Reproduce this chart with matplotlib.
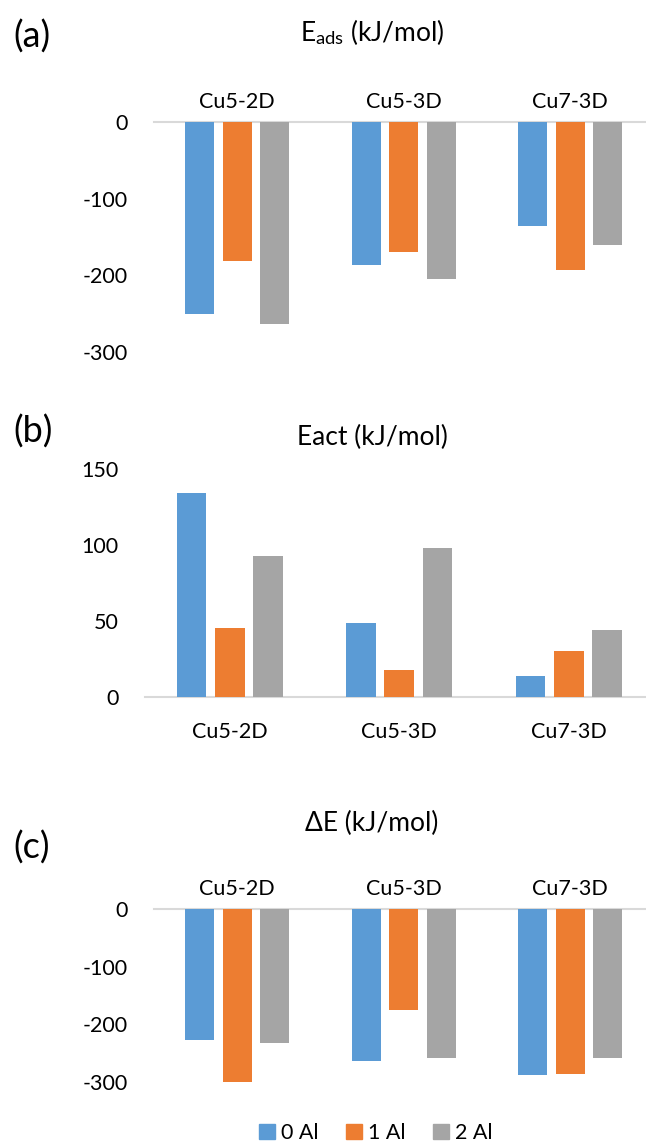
import matplotlib
matplotlib.use("Agg")
import matplotlib.pyplot as plt
from matplotlib.patches import Patch
import numpy as np

plt.rcParams["font.family"] = ["Lato", "DejaVu Sans"]
plt.rcParams["mathtext.fontset"] = "custom"
plt.rcParams["mathtext.rm"] = "Lato"
plt.rcParams["mathtext.it"] = "Lato:italic"

clusters = ["Cu5-2D", "Cu5-3D", "Cu7-3D"]
series = ["0 Al", "1 Al", "2 Al"]
colors = ["#5B9BD5", "#ED7D31", "#A5A5A5"]

# adsorption energy (kJ/mol), one list per Al count
eads_0al = [-250, -186, -136]
eads_1al = [-181, -170, -193]
eads_2al = [-263, -205, -161]

# activation energy (kJ/mol)
eact_0al = [134, 49, 13.5]
eact_1al = [45.5, 18, 30.5]
eact_2al = [93, 98, 44]

# reaction energy (kJ/mol)
de_0al = [-228, -264, -288]
de_1al = [-301, -176, -286]
de_2al = [-233, -258, -258]

W, H = 646, 1145
fig = plt.figure(figsize=(W / 100, H / 100), dpi=100)

TICK_FS = 15.5
x = np.arange(len(clusters))
offsets = [-0.225, 0, 0.225]


def frac_box(left, right, top, bottom):
    return [left / W, 1 - bottom / H, (right - left) / W, (bottom - top) / H]


def draw_panel(ax, data, ylim, yticks, labels_top):
    for vals, off, c in zip(data, offsets, colors):
        ax.bar(x + off, vals, width=0.175, color=c, zorder=2)
    ax.set_xlim(-0.5, 2.5)
    ax.set_ylim(*ylim)
    ax.set_yticks(yticks)
    ax.set_yticklabels([str(t) for t in yticks], fontsize=TICK_FS)
    ax.set_xticks(x)
    ax.set_xticklabels(clusters, fontsize=TICK_FS)
    for s in ax.spines.values():
        s.set_visible(False)
    ax.axhline(0, color="#D9D9D9", lw=1.5, clip_on=False, zorder=1)
    if labels_top:
        ax.xaxis.tick_top()
        ax.tick_params(axis="x", length=0, pad=7)
    else:
        ax.tick_params(axis="x", length=0, pad=18)
    ax.tick_params(axis="y", length=0, pad=19)
    ax.patch.set_visible(False)


ax_a = fig.add_axes(frac_box(154, 653.5, 122, 352))
draw_panel(ax_a, [eads_0al, eads_1al, eads_2al], (-300, 0), [0, -100, -200, -300], True)

ax_b = fig.add_axes(frac_box(145, 653.5, 469, 697))
draw_panel(ax_b, [eact_0al, eact_1al, eact_2al], (0, 150), [0, 50, 100, 150], False)

ax_c = fig.add_axes(frac_box(154, 653.5, 909, 1082))
draw_panel(ax_c, [de_0al, de_1al, de_2al], (-300, 0), [0, -100, -200, -300], True)

# titles and panel letters
fig.text(372 / W, 1 - 32 / H, r"E$_{\mathrm{ads}}$ (kJ/mol)", ha="center", va="center", fontsize=19)
fig.text(372 / W, 1 - 437 / H, "Eact (kJ/mol)", ha="center", va="center", fontsize=19)
fig.text(372 / W, 1 - 823 / H, "ΔE (kJ/mol)", ha="center", va="center", fontsize=19)

fig.text(13 / W, 1 - 37 / H, "(a)", ha="left", va="center", fontsize=26)
fig.text(13 / W, 1 - 432 / H, "(b)", ha="left", va="center", fontsize=26)
fig.text(13 / W, 1 - 848 / H, "(c)", ha="left", va="center", fontsize=26)

handles = [Patch(color=c, label=s) for c, s in zip(colors, series)]
fig.legend(handles=handles, loc="center", bbox_to_anchor=(376 / W, 1 - 1133 / H),
           ncol=3, frameon=False, fontsize=TICK_FS, handlelength=0.7, handleheight=0.7,
           handletextpad=0.3, columnspacing=1.3)

fig.savefig("out.png", dpi=100)
